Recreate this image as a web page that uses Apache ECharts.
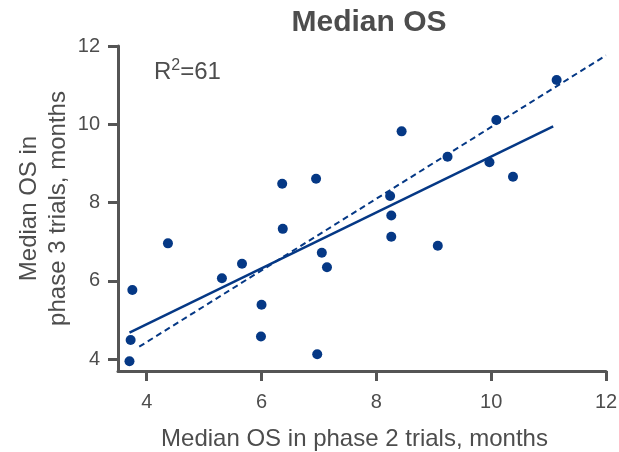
<!DOCTYPE html>
<html>
<head>
<meta charset="utf-8">
<script src="https://cdn.jsdelivr.net/npm/echarts@6/dist/echarts.min.js"></script>
<style>
  html, body { margin: 0; padding: 0; background: #fff; }
  #chart { width: 619px; height: 452px; }
</style>
</head>
<body>
<div id="chart"></div>
<script>
// phase 2 vs phase 3 median OS (months)
const phase2 = [3.70, 3.72, 3.75, 4.37, 5.31, 5.66, 6.00, 5.99, 6.36, 6.37, 6.95, 7.05,
  7.14, 6.97, 8.44, 8.24, 8.26, 8.26, 9.07, 9.24, 9.97, 10.09, 10.38, 11.14];
const phase3 = [3.95, 4.49, 5.77, 6.96, 6.07, 6.44, 5.39, 4.58, 8.48, 7.33, 8.61, 6.72,
  6.35, 4.13, 9.82, 8.17, 7.67, 7.13, 6.90, 9.17, 9.03, 10.11, 8.66, 11.13];

// regression fit (solid) and reference line (dashed), endpoints
const fitX = [3.70, 11.08];
const fitY = [4.68, 9.95];
const refX = [3.87, 12.0];
const refY = [4.32, 11.76];

const tickValues = [4, 6, 8, 10, 12];

const axisColor = '#555555';
const textColor = '#4d4d4d';
const navy = '#053885';

const chart = echarts.init(document.getElementById('chart'));

const axisCommon = {
  type: 'value',
  nameLocation: 'middle',
  nameMoveOverlap: false,
  nameTextStyle: { color: textColor, fontSize: 24, fontFamily: 'Liberation Sans' },
  axisLine: { show: true, lineStyle: { color: axisColor, width: 3 } },
  axisTick: { show: true, length: 10, customValues: tickValues, lineStyle: { color: axisColor, width: 3 } },
  axisLabel: { customValues: tickValues, color: textColor, fontSize: 20, fontFamily: 'Liberation Sans' },
  splitLine: { show: false },
};

chart.setOption({
  backgroundColor: '#ffffff',
  animation: false,
  title: {
    text: 'Median OS',
    left: 364,
    top: 3,
    textAlign: 'center',
    textStyle: { color: textColor, fontSize: 30, fontWeight: 'bold', fontFamily: 'Liberation Sans' },
  },
  grid: { left: 118, right: 13, top: 46, bottom: 81, outerBoundsMode: 'none' },
  xAxis: {
    ...axisCommon,
    min: 3.5,
    max: 12,
    name: 'Median OS in phase 2 trials, months',
    nameGap: 56,
    nameTextStyle: { ...axisCommon.nameTextStyle, padding: [0, 15, 0, 0] },
    axisLabel: { ...axisCommon.axisLabel, margin: 21 },
  },
  yAxis: {
    ...axisCommon,
    min: 3.7,
    max: 12,
    name: 'Median OS in\nphase 3 trials, months',
    nameGap: 45,
    nameTextStyle: { ...axisCommon.nameTextStyle, lineHeight: 29 },
    axisLabel: { ...axisCommon.axisLabel, margin: 18 },
  },
  graphic: [
    {
      type: 'text',
      left: 154,
      top: 58,
      style: {
        text: '{b|R}{s|2}{b|=61}',
        rich: {
          b: { fontSize: 24, fill: textColor, fontFamily: 'Liberation Sans', verticalAlign: 'bottom' },
          s: { fontSize: 16, fill: textColor, fontFamily: 'Liberation Sans', verticalAlign: 'top', padding: [0, 0, 10, 0] },
        },
      },
    },
  ],
  series: [
    {
      type: 'line',
      data: fitX.map((x, i) => [x, fitY[i]]),
      showSymbol: false,
      lineStyle: { color: navy, width: 2.5 },
      z: 2,
    },
    {
      type: 'line',
      data: refX.map((x, i) => [x, refY[i]]),
      showSymbol: false,
      lineStyle: { color: navy, width: 2, type: [6, 4] },
      z: 2,
    },
    {
      type: 'scatter',
      data: phase2.map((x, i) => [x, phase3[i]]),
      symbolSize: 10,
      itemStyle: { color: navy, opacity: 1 },
      z: 3,
    },
  ],
});
</script>
</body>
</html>
